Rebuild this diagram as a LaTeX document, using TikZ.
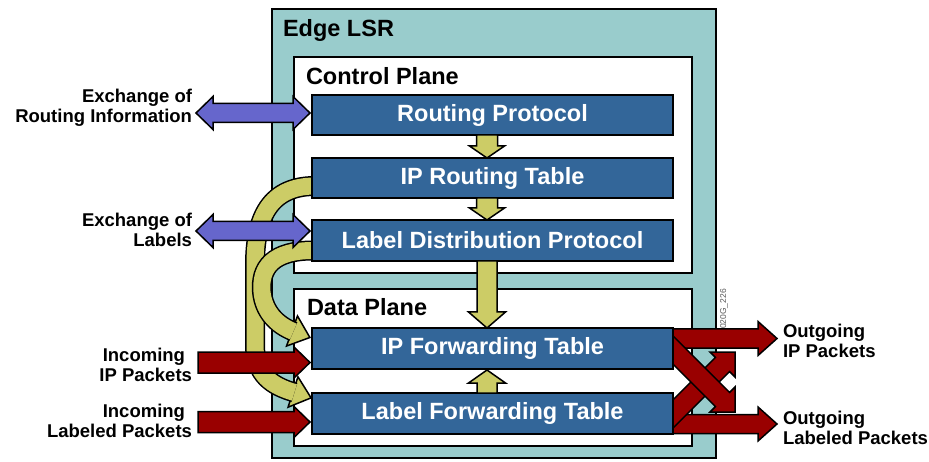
\documentclass[tikz,border=0pt]{standalone}
\usepackage{fontspec}
\setmainfont{Liberation Sans}
\usetikzlibrary{calc}
\definecolor{tealc}{HTML}{99CCCC}
\definecolor{bluec}{HTML}{336699}
\definecolor{yelc}{HTML}{CCCC66}
\definecolor{purc}{HTML}{6666CC}
\definecolor{redc}{HTML}{990000}
\pgfdeclarelayer{bg}
\pgfdeclarelayer{mid}
\pgfsetlayers{bg,mid,main}
% single fat arrow: start, tip, shaft half, head half, head length, style
\newcommand\fatarr[6]{%
  \path ($(#2)!#5!(#1)$) coordinate (fatB);
  \draw[#6] ($(#1)!#3!90:(#2)$) -- ($(fatB)!#3!90:(#2)$) -- ($(fatB)!#4!90:(#2)$) -- (#2)
    -- ($(fatB)!#4!-90:(#2)$) -- ($(fatB)!#3!-90:(#2)$) -- ($(#1)!#3!-90:(#2)$) -- cycle;}
% double fat arrow
\newcommand\fatdbl[6]{%
  \path ($(#2)!#5!(#1)$) coordinate (fatB) ($(#1)!#5!(#2)$) coordinate (fatA);
  \draw[#6] (#1) -- ($(fatA)!#4!90:(#2)$) -- ($(fatA)!#3!90:(#2)$) -- ($(fatB)!#3!90:(#2)$)
    -- ($(fatB)!#4!90:(#2)$) -- (#2) -- ($(fatB)!#4!-90:(#2)$) -- ($(fatB)!#3!-90:(#2)$)
    -- ($(fatA)!#3!-90:(#2)$) -- ($(fatA)!#4!-90:(#2)$) -- cycle;}
% head of a curved yellow band
\newcommand\yhead[2]{%
  \draw[yarrow] ($(#1)+(#2+90:16)$) -- ($(#1)+(#2:19)$) -- ($(#1)+(#2-90:16)$) -- cycle;}
\begin{document}
\begin{tikzpicture}[x=1pt,y=-1pt,
  every node/.style={inner sep=0pt, outer sep=0pt},
  frame/.style={draw=black, line width=1.6pt},
  plane/.style={frame, fill=white},
  bluebox/.style={frame, fill=bluec, text=white, font=\fontsize{23.5}{26}\selectfont\bfseries, minimum width=361pt},
  title/.style={font=\fontsize{23.5}{26}\selectfont\bfseries, anchor=base west},
  lab/.style={font=\fontsize{18.5}{20}\selectfont\bfseries},
  yarrow/.style={draw=black, line width=1.5pt, fill=yelc, line join=miter},
  parrow/.style={draw=black, line width=1.5pt, fill=purc, line join=miter},
  rarrow/.style={draw=black, line width=1.5pt, fill=redc, line join=miter},
  yband/.style={draw=black, line width=1.5pt, double=yelc, double distance=17pt}
]
\useasboundingbox (0,0) rectangle (929,462);
\begin{pgfonlayer}{bg}
  \fill[white] (0,0) rectangle (929,462);
  \node[frame, fill=tealc, minimum width=444pt, minimum height=449pt] (lsr) at (494,233.5) {};
  \node[plane, minimum width=398pt, minimum height=216pt] (cp) at (493,165) {};
  \node[plane, minimum width=398pt, minimum height=157pt] (dp) at (493,367.5) {};
\end{pgfonlayer}

% titles
\node[title] (tlsr) at (283,37) {Edge LSR};
\node[title] (tcp) at (306,85) {Control Plane};
\node[title] (tdp) at (307,316) {Data Plane};

% blue boxes
\node[bluebox, minimum height=40pt] (rp) at (492.5,115) {Routing Protocol};
\node[bluebox, minimum height=40pt] (iprt) at (492.5,178) {IP Routing Table};
\node[bluebox, minimum height=41pt] (ldp) at (492.5,240.5) {Label Distribution Protocol};
\node[bluebox, minimum height=41pt] (ipft) at (492.5,348.5) {IP Forwarding Table};
\node[bluebox, minimum height=41pt] (lft) at (492.5,413.5) {Label Forwarding Table};

% side labels
\node[lab, align=right, anchor=east] (lex1) at (192,108) {Exchange of\\Routing Information};
\node[lab, align=right, anchor=east] (lex2) at (192,230) {Exchange of\\Labels};
\node[lab, align=right, anchor=east] (lin1) at (192,365) {Incoming\hspace*{7pt}\\IP Packets};
\node[lab, align=right, anchor=east] (lin2) at (192,421) {Incoming\hspace*{7pt}\\Labeled Packets};
\node[lab, align=left, anchor=west] (lout1) at (783,341) {Outgoing\\IP Packets};
\node[lab, align=left, anchor=west] (lout2) at (783,427.5) {Outgoing\\Labeled Packets};
\node[rotate=90, text=black!65, font=\fontsize{8.5}{9}\selectfont] (code) at (724,309) {020G\_226};

% coordinates
\coordinate (ya0) at ($(iprt.west)+(3,8)$);
\coordinate (yaE) at (293,392);
\coordinate (yb0) at ($(ldp.west)+(3,10)$);
\coordinate (ybE) at (292,331);
\coordinate (pr0) at (196,113);
\coordinate (pr1) at ($(rp.west)+(-2,-2)$);
\coordinate (pl0) at (196,231);
\coordinate (pl1) at ($(ldp.west)+(-2,-9.5)$);
\coordinate (ri0) at (198,362.5);
\coordinate (ri1) at ($(ipft.west)+(-2,14)$);
\coordinate (rl0) at (198,422);
\coordinate (rl1) at ($(lft.west)+(-2,8.5)$);
\coordinate (ro0) at (660,338.5);
\coordinate (ro1) at (777,338.5);
\coordinate (rq0) at (660,424);
\coordinate (rq1) at (777,424);
\coordinate (da0) at (664,341);
\coordinate (da1) at (735,412);
\coordinate (db0) at (664,423);
\coordinate (db1) at (735,352);

\begin{pgfonlayer}{mid}
  % curved yellow arrows
  \yhead{yaE}{18}
  \draw[yband] (ya0) .. controls (265,186) and (255,225) .. (255,265) -- (255,345)
     .. controls (255,375) and (272,386) .. ($(yaE)+(18:1.5)$);
  \yhead{ybE}{20}
  \draw[yband] (yb0) .. controls (272,250) and (260,268) .. (262,292)
     .. controls (264,312) and (277,325) .. ($(ybE)+(20:1.5)$);
  % purple exchange arrows
  \fatdbl{pr0}{pr1}{9.5pt}{16.5pt}{17pt}{parrow}
  \fatdbl{pl0}{pl1}{9.5pt}{16.5pt}{17pt}{parrow}
  % red incoming
  \fatarr{ri0}{ri1}{10.5pt}{15.5pt}{16pt}{rarrow}
  \fatarr{rl0}{rl1}{10.5pt}{15.5pt}{16pt}{rarrow}
  % red outgoing
  \fatarr{ro0}{ro1}{9.5pt}{17pt}{19pt}{rarrow}
  \fatarr{rq0}{rq1}{9.5pt}{17pt}{19pt}{rarrow}
  % crossing
  \fatarr{db0}{db1}{10pt}{17.68pt}{17.68pt}{rarrow}
  \fatarr{da0}{da1}{10pt}{17.68pt}{17.68pt}{rarrow}
\end{pgfonlayer}

% vertical yellow arrows
\coordinate (v1a) at ($(rp.south)+(-5.5,0)$);
\coordinate (v1b) at ($(iprt.north)+(-5.5,0)$);
\coordinate (v2a) at ($(iprt.south)+(-5.5,0)$);
\coordinate (v2b) at ($(ldp.north)+(-5.5,0)$);
\coordinate (v3a) at ($(ldp.south)+(-5.5,0)$);
\coordinate (v3b) at ($(ipft.north)+(-5.5,0)$);
\coordinate (v4a) at ($(lft.north)+(-5.5,0)$);
\coordinate (v4b) at ($(ipft.south)+(-5.5,1)$);
\fatarr{v1a}{v1b}{10.5pt}{17.5pt}{12pt}{yarrow}
\fatarr{v2a}{v2b}{10.5pt}{17.5pt}{12pt}{yarrow}
\fatarr{v3a}{v3b}{10pt}{18.5pt}{16pt}{yarrow}
\fatarr{v4a}{v4b}{10pt}{18.5pt}{13pt}{yarrow}
\end{tikzpicture}
\end{document}
